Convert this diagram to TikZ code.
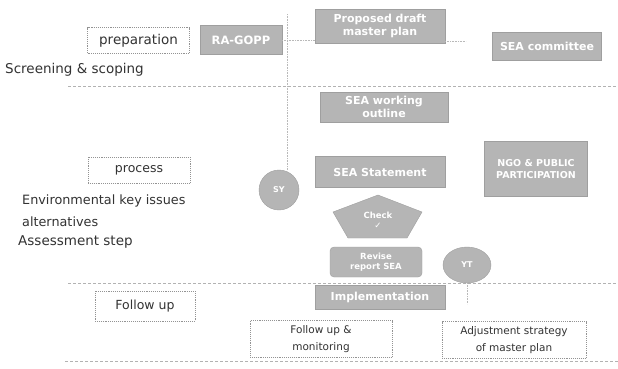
\documentclass[tikz,border=0pt]{standalone}
\usepackage{fontspec}
\setmainfont{DejaVu Sans}
\usetikzlibrary{shapes.geometric}
\begin{document}
\begin{tikzpicture}[x=1pt,y=-1pt,
  greybox/.style={draw=gray!75,fill=gray!58,text=white,font=\fontsize{11}{13}\selectfont\bfseries,align=center,inner sep=1pt},
  dotbox/.style={draw=gray!85,densely dotted,line width=0.9pt,fill=white,text=black!80,font=\fontsize{12}{14}\selectfont,align=center,inner sep=1pt},
  sidetext/.style={anchor=west,text=black!80,font=\fontsize{12}{14}\selectfont,inner sep=0pt},
  sepline/.style={gray!60,line width=1pt,dash pattern=on 2.5pt off 2.5pt},
  dotline/.style={gray!55,densely dotted,line width=0.6pt},
  circ/.style={circle,draw=gray!75,fill=gray!58,text=white,font=\fontsize{8}{9}\selectfont\bfseries,inner sep=0pt}]
\useasboundingbox[fill=white] (0,0) rectangle (618,368);

% separators
\draw[sepline] (68,86) -- (618,86);
\draw[sepline] (68,283) -- (618,283);
\draw[sepline] (65,361) -- (618,361);

% left labels
\node[dotbox,minimum width=102pt,minimum height=26pt,font=\fontsize{13.5}{15}\selectfont] (prep) at (138.5,40.5) {preparation};
\node[sidetext,font=\fontsize{13.5}{15}\selectfont] (scr) at (5,70) {Screening \& scoping};
\node[dotbox,minimum width=102pt,minimum height=26pt,font=\fontsize{12.5}{14}\selectfont] (proc) at (139,170) {process};
\node[sidetext,font=\fontsize{12.8}{14}\selectfont] (env) at (22,201) {Environmental key issues};
\node[sidetext,font=\fontsize{12.8}{14}\selectfont] (alt) at (22,222) {alternatives};
\node[sidetext,font=\fontsize{13.5}{15}\selectfont] (ass) at (18,242) {Assessment step};
\node[dotbox,minimum width=100pt,minimum height=30pt,font=\fontsize{12.5}{14}\selectfont] (fup) at (145,306) {Follow up};

% grey boxes
\node[greybox,minimum width=82pt,minimum height=29pt,font=\fontsize{11.5}{13}\selectfont\bfseries] (ragopp) at (241,40) {RA-GOPP};
\node[greybox,minimum width=130pt,minimum height=34pt] (draft) at (380,26) {Proposed draft\\master plan};
\node[greybox,minimum width=109pt,minimum height=28pt] (comm) at (547,46) {SEA committee};
\node[greybox,minimum width=128pt,minimum height=30pt] (work) at (384,107) {SEA working\\outline};
\node[greybox,minimum width=130pt,minimum height=31pt] (stat) at (380,172) {SEA Statement};
\node[greybox,minimum width=103pt,minimum height=55pt,font=\fontsize{9.5}{12}\selectfont\bfseries] (ngo) at (536,169) {NGO \& PUBLIC\\PARTICIPATION};

% pentagon
\draw[draw=gray!75,fill=gray!58] (378,195) -- (422,212) -- (407,238) -- (348,238) -- (333,212) -- cycle;
\node[text=white,font=\fontsize{8.5}{10}\selectfont\bfseries,align=center,inner sep=0pt] (check) at (378,220) {Check\\✓};

\node[greybox,rounded corners=4pt,minimum width=92pt,minimum height=30pt,font=\fontsize{8.5}{10}\selectfont\bfseries] (rev) at (376,262) {Revise\\report SEA};
\node[greybox,minimum width=130pt,minimum height=24pt] (impl) at (380,297) {Implementation};

% circles
\node[circ,minimum size=40pt] (sy) at (279,190) {SY};
\node[ellipse,draw=gray!75,fill=gray!58,text=white,font=\fontsize{8}{9}\selectfont\bfseries,minimum width=48pt,minimum height=36pt,inner sep=0pt] (yt) at (467,265) {YT};

% bottom boxes
\node[dotbox,minimum width=142pt,minimum height=37pt,font=\fontsize{10.5}{17}\selectfont] (mon) at (321,339) {Follow up \&\\monitoring};
\node[dotbox,minimum width=144pt,minimum height=37pt,font=\fontsize{10.5}{17}\selectfont] (adj) at (514,340) {Adjustment strategy\\of master plan};

% connectors
\coordinate (vtop) at (287,14);
\draw[dotline] (vtop) -- (sy.north -| vtop);
\coordinate (dr) at (466,41);
\draw[dotline] (draft.east |- dr) -- (dr);
\draw[dotline] (ragopp.east) -- (draft.west |- ragopp.east);
\coordinate (ytb) at (467,304);
\draw[dotline] (yt.south) -- (ytb);
\end{tikzpicture}
\end{document}
